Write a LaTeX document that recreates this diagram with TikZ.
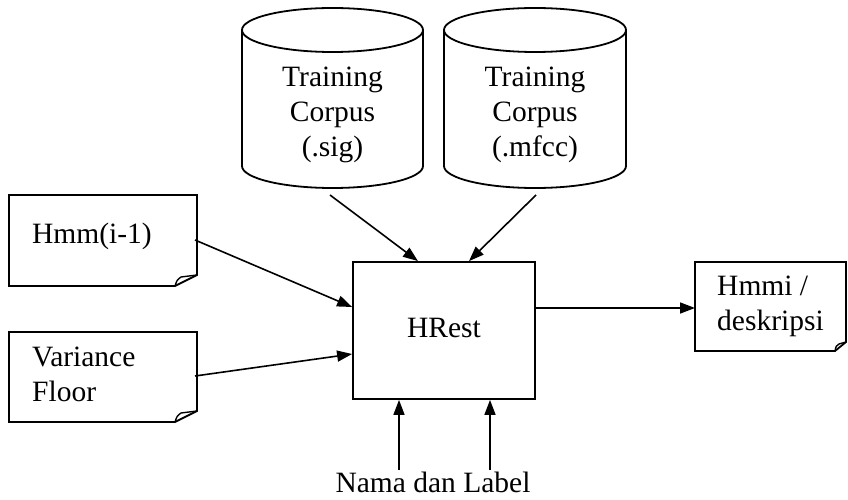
\documentclass[tikz,border=0pt]{standalone}
\usepackage{fontspec}
\setmainfont{Liberation Serif}
\usetikzlibrary{arrows.meta,calc}

\begin{document}
\begin{tikzpicture}[x=1pt,y=1pt,
  every node/.style={font=\fontsize{29.5}{35}\selectfont, inner sep=0pt},
  outline/.style={draw, line width=1.8pt, line join=miter},
  curl/.style={draw, line width=1.4pt},
  link/.style={line width=1.6pt, -{Triangle[length=15pt,width=11pt]}},
]
\useasboundingbox (0,0) rectangle (848,-500);

% two corpus databases
\draw[outline] (242,-30) -- (242,-166)
  arc[start angle=180,end angle=360,x radius=90.5,y radius=22] -- (423,-30);
\draw[outline] (332.5,-30) ellipse[x radius=90.5,y radius=22];
\node[anchor=north, align=center] (sig) at (332.5,-67) {Training\\Corpus\\(.sig)};

\draw[outline] (444,-30) -- (444,-166)
  arc[start angle=180,end angle=360,x radius=91,y radius=22] -- (626,-30);
\draw[outline] (535,-30) ellipse[x radius=91,y radius=22];
\node[anchor=north, align=center] (mfcc) at (535,-67) {Training\\Corpus\\(.mfcc)};

% HRest process box
\node[outline, minimum width=182, minimum height=137] (hrest) at (444,-330.5) {};
\node (hresttext) at (444,-328) {HRest};

% input documents
\draw[outline] (9,-195) -- (197,-195) -- (197,-275) -- (175,-286) -- (9,-286) -- cycle;
\draw[curl] (175,-286) .. controls (177,-280) .. (181,-277) -- (197,-275);
\node[anchor=base west] (hmm) at (32,-243) {Hmm(i-1)};

\draw[outline] (9,-332) -- (197,-332) -- (197,-411) -- (175,-422) -- (9,-422) -- cycle;
\draw[curl] (175,-422) .. controls (177,-416) .. (181,-413) -- (197,-411);
\node[anchor=north west, align=left] (var) at (32,-347) {Variance\\Floor};

% output document
\draw[outline] (695,-262) -- (846,-262) -- (846,-342) -- (835,-351) -- (695,-351) -- cycle;
\draw[curl] (835,-351) .. controls (836,-346) .. (839,-344) -- (846,-342);
\node[anchor=north west, align=left] (hmmi) at (717,-276) {Hmmi /\\deskripsi};

% bottom label
\node[anchor=base] (label) at (433,-492) {Nama dan Label};

% connector end points
\coordinate (sigout) at (330,-195);
\coordinate (mfccout) at (536,-195);
\coordinate (hmmout) at (195,-240);
\coordinate (varout) at (195,-376);
\coordinate (hmmiin) at (695,-308);

% connectors
\draw[link] (sigout) -- ($(hrest.north)+(-26,0)$);
\draw[link] (mfccout) -- ($(hrest.north)+(25,0)$);
\draw[link] (hmmout) -- ($(hrest.west)+(0,23.5)$);
\draw[link] (varout) -- ($(hrest.west)+(0,-23.5)$);
\draw[link] ($(hrest.east)+(0,22.5)$) -- (hmmiin);
\draw[link] ($(hrest.south)+(-45,-70)$) -- ($(hrest.south)+(-45,0)$);
\draw[link] ($(hrest.south)+(46,-70)$) -- ($(hrest.south)+(46,0)$);
\end{tikzpicture}
\end{document}
